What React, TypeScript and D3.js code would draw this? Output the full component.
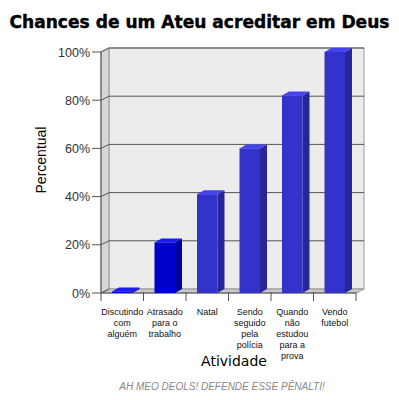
import * as d3 from 'd3';

const categories = [
  'Discutindo com alguém',
  'Atrasado para o trabalho',
  'Natal',
  'Sendo seguido pela polícia',
  'Quando não estudou para a prova',
  'Vendo futebol',
];
const labelLines = [
  ['Discutindo', 'com', 'alguém'],
  ['Atrasado', 'para o', 'trabalho'],
  ['Natal'],
  ['Sendo', 'seguido', 'pela', 'polícia'],
  ['Quando', 'não', 'estudou', 'para a', 'prova'],
  ['Vendo', 'futebol'],
];
const values = [0.6, 21, 41, 60, 82, 100];
const yTicks = [0, 20, 40, 60, 80, 100];

const W = 399;
const H = 400;
const DX = 8; // depth offset of the back wall
const DY = -4;
const BDX = 7; // bar depth
const BDY = -4;

const sans = 'Liberation Sans, Arial, sans-serif';
const rounded = 'DejaVu Sans, Verdana, sans-serif';

export default function App() {
  const x = d3.scaleBand<string>().domain(categories).range([101, 356]);
  const y = d3.scaleLinear().domain([0, 100]).range([293, 52]);
  const x0 = x.range()[0];
  const x1 = x.range()[1];
  const yb = y(0);
  const yt = y(100);
  const pts = (p: number[][]) => p.map((d) => d.join(',')).join(' ');

  return (
    <svg width={W} height={H} style={{ position: 'absolute', left: 0, top: 0, background: '#fff' }}>
      <text x={W / 2} y={28} textAnchor="middle" fontFamily={rounded} fontWeight="bold" fontSize={17}
        textLength={380} lengthAdjust="spacingAndGlyphs" fill="#000" stroke="#000" strokeWidth={0.4}>
        Chances de um Ateu acreditar em Deus
      </text>

      {/* back wall */}
      <rect x={x0 + DX} y={yt + DY} width={x1 - x0} height={yb - yt} fill="#ececec" stroke="#999" strokeWidth={1} />
      {/* left wall */}
      <polygon points={pts([[x0, yt], [x0 + DX, yt + DY], [x0 + DX, yb + DY], [x0, yb]])} fill="#d6d6d6" stroke="#999" />
      {/* floor */}
      <polygon points={pts([[x0, yb], [x0 + DX, yb + DY], [x1 + DX, yb + DY], [x1, yb]])} fill="#c8c8c8" stroke="#999" />

      {yTicks.map((t) => (
        <g key={t}>
          {t > 0 && (
            <line x1={x0 + DX} x2={x1 + DX} y1={y(t) + DY} y2={y(t) + DY} stroke="#555" strokeWidth={1} />
          )}
          <line x1={x0} x2={x0 + DX} y1={y(t)} y2={y(t) + DY} stroke="#555" strokeWidth={1} />
          <line x1={x0 - 9} x2={x0} y1={y(t)} y2={y(t)} stroke="#555" strokeWidth={1} />
          <text x={x0 - 11} y={y(t) + 4.5} textAnchor="end" fontFamily={sans} fontSize={12.5} fill="#333">
            {t}%
          </text>
        </g>
      ))}
      <line x1={x0} x2={x0} y1={yt} y2={yb} stroke="#555" />
      <line x1={x0} x2={x1} y1={yb} y2={yb} stroke="#555" />

      {/* category ticks */}
      {categories.map((c) => (
        <line key={c} x1={x(c)! + x.bandwidth()} x2={x(c)! + x.bandwidth()} y1={yb - 1} y2={yb + 8}
          stroke="#555" />
      ))}
      <line x1={x0} x2={x0} y1={yb} y2={yb + 8} stroke="#555" />

      {/* bars */}
      {categories.map((c, i) => {
        const bx = x(c)! + 11;
        const bw = 20.5;
        const top = y(values[i]);
        const dark = i < 2;
        const front = dark ? '#0000cc' : '#3333cc';
        const side = dark ? '#00009a' : '#262699';
        const lid = dark ? '#1a1aee' : '#4444ee';
        return (
          <g key={c}>
            <polygon points={pts([[bx + bw, top], [bx + bw + BDX, top + BDY], [bx + bw + BDX, yb + BDY], [bx + bw, yb]])}
              fill={side} />
            <polygon points={pts([[bx, top], [bx + BDX, top + BDY], [bx + bw + BDX, top + BDY], [bx + bw, top]])}
              fill={lid} />
            <rect x={bx} y={top} width={bw} height={yb - top} fill={front} />
          </g>
        );
      })}

      {/* category labels */}
      {labelLines.map((lines, i) => (
        <text key={i} textAnchor="middle" fontFamily={sans} fontSize={9} fill="#111">
          {lines.map((l, j) => (
            <tspan key={j} x={x(categories[i])! + x.bandwidth() / 2} y={315 + j * 11}>
              {l}
            </tspan>
          ))}
        </text>
      ))}

      <text transform={`translate(46,160) rotate(-90)`} textAnchor="middle" fontFamily={sans} fontSize={14} fill="#000">
        Percentual
      </text>
      <text x={234} y={366} textAnchor="middle" fontFamily={rounded} fontSize={14} fill="#000">
        Atividade
      </text>
      <text x={222} y={390} textAnchor="middle" fontFamily={sans} fontStyle="italic" fontSize={10} fill="#888">
        AH MEO DEOLS! DEFENDE ESSE PÊNALTI!
      </text>
    </svg>
  );
}
